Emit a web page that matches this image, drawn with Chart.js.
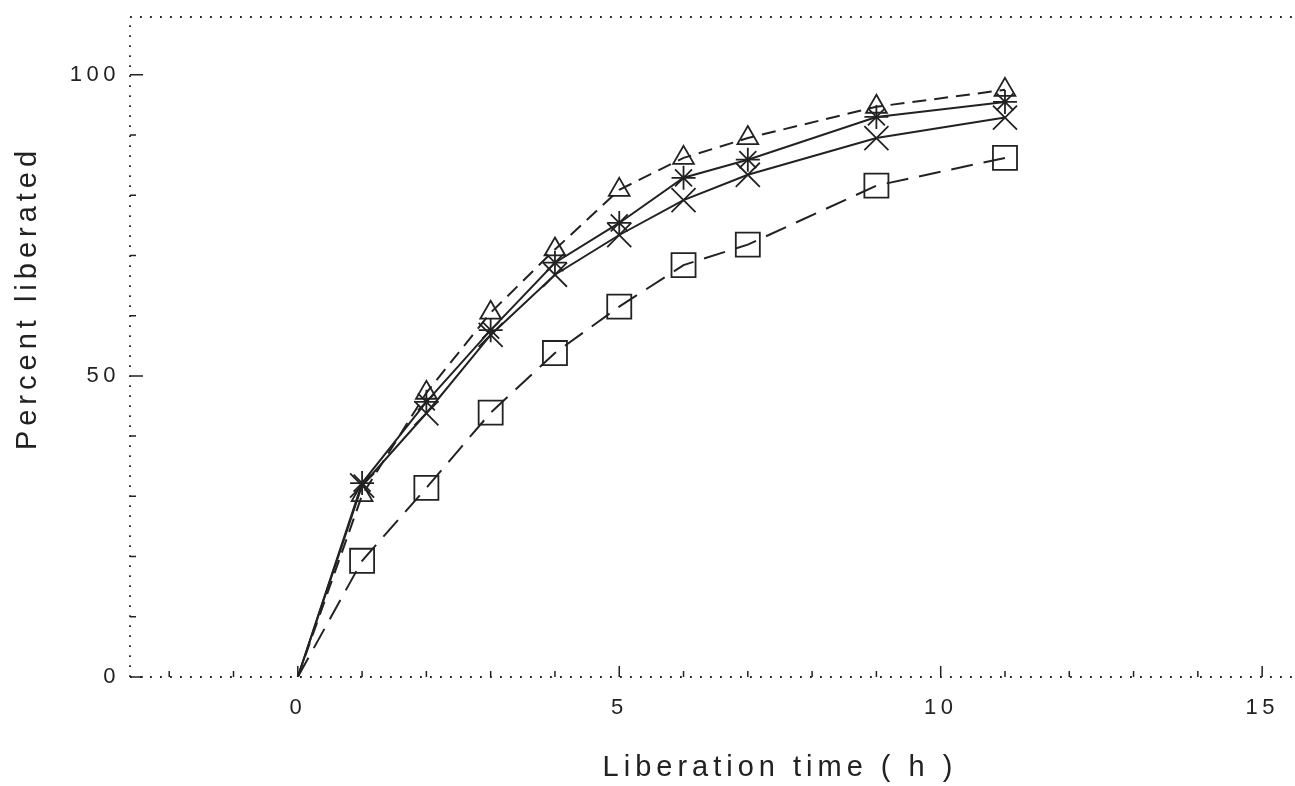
<!DOCTYPE html>
<html>
<head>
<meta charset="utf-8">
<script src="https://cdn.jsdelivr.net/npm/chart.js@4.4.1/dist/chart.umd.min.js"></script>
<style>
    html, body { margin: 0; padding: 0; background: #ffffff; }
    #liberationChart { display: block; }
</style>
</head>
<body>
<canvas id="liberationChart" width="1295" height="786"></canvas>
<script>
// 放出時間 (h) と各系列の放出率 (%)
const hours = [0, 1, 2, 3, 4, 5, 6, 7, 9, 11];
const triangleSeries = [0, 30.2, 47.2, 60.5, 71.0, 80.9, 86.2, 89.5, 94.7, 97.5];
const starSeries = [0, 32.2, 45.7, 57.6, 68.8, 75.4, 82.9, 85.9, 93.0, 95.5];
const crossSeries = [0, 31.8, 43.8, 56.8, 66.8, 73.4, 79.2, 83.4, 89.5, 92.9];
const squareSeries = [0, 19.3, 31.4, 43.9, 53.8, 61.5, 68.4, 71.8, 81.6, 86.2];

// 目盛り
const xTickLabels = [0, 5, 10, 15];
const yTickLabels = [0, 50, 100];
const xMinorTicks = [-2, -1, 0, 1, 2, 3, 4, 5, 6, 7, 8, 9, 10, 11, 12, 13, 14, 15];
const yMinorTicks = [0, 10, 20, 30, 40, 50, 60, 70, 80, 90, 100];

const INK = '#222222';
const FONT = "'Liberation Sans', Arial, Helvetica, sans-serif";

const toPoints = (values) => hours.map((h, i) => ({ x: h, y: values[i] }));

// 原点にはマーカーを描かない
const markerSize = (r) => (ctx) => (ctx.dataIndex === 0 ? 0 : r);

const makeSeries = (label, values, pointStyle, radius, dash) => ({
    label: label,
    data: toPoints(values),
    borderColor: INK,
    backgroundColor: 'rgba(0,0,0,0)',
    borderWidth: 2,
    borderDash: dash,
    tension: 0,
    pointStyle: pointStyle,
    pointRadius: markerSize(radius),
    pointBorderColor: INK,
    pointBorderWidth: 1.8,
    pointBackgroundColor: 'rgba(0,0,0,0)',
});

// 点線の枠・内向きの目盛り・軸タイトル
const frameTicks = {
    id: 'frameTicks',
    beforeDraw: (chart) => {
        chart.ctx.letterSpacing = '4.5px';
    },
    afterDraw: (chart) => {
        const ctx = chart.ctx;
        const a = chart.chartArea;
        const x = chart.scales.x;
        const y = chart.scales.y;

        ctx.save();
        ctx.strokeStyle = INK;
        ctx.lineWidth = 1.8;
        ctx.setLineDash([1.8, 8.2]);
        ctx.beginPath();
        ctx.moveTo(a.left, a.bottom);
        ctx.lineTo(a.right, a.bottom);
        ctx.moveTo(a.left, a.bottom);
        ctx.lineTo(a.left, a.top);
        ctx.moveTo(a.left, a.top);
        ctx.lineTo(a.right, a.top);
        ctx.stroke();

        ctx.setLineDash([]);
        ctx.lineWidth = 1.5;
        ctx.beginPath();
        xMinorTicks.forEach((v) => {
            const px = x.getPixelForValue(v);
            const len = xTickLabels.includes(v) ? 11 : 6;
            ctx.moveTo(px, a.bottom);
            ctx.lineTo(px, a.bottom - len);
        });
        yMinorTicks.forEach((v) => {
            const py = y.getPixelForValue(v);
            const len = yTickLabels.includes(v) ? 13 : 6;
            ctx.moveTo(a.left, py);
            ctx.lineTo(a.left + len, py);
        });
        ctx.stroke();

        // 軸タイトル
        ctx.fillStyle = INK;
        ctx.font = `29px ${FONT}`;
        ctx.letterSpacing = '5px';
        ctx.textAlign = 'center';
        ctx.textBaseline = 'middle';
        ctx.fillText('Liberation time ( h )', 780, 768);
        ctx.translate(28, 298);
        ctx.rotate(-Math.PI / 2);
        ctx.fillText('Percent liberated', 0, 0);
        ctx.restore();
    },
};

new Chart(document.getElementById('liberationChart').getContext('2d'), {
    type: 'line',
    data: {
        datasets: [
            makeSeries('triangle', triangleSeries, 'triangle', 12, [14, 8]),
            makeSeries('star', starSeries, 'star', 12, []),
            makeSeries('cross', crossSeries, 'crossRot', 17, []),
            makeSeries('square', squareSeries, 'rect', 17, [22, 11]),
        ],
    },
    options: {
        responsive: false,
        animation: false,
        layout: { autoPadding: false, padding: { top: 17, right: 2, left: 0, bottom: 0 } },
        plugins: {
            legend: { display: false },
            tooltip: { enabled: false },
        },
        scales: {
            x: {
                type: 'linear',
                min: -2.61,
                max: 15.48,
                grid: { display: false },
                border: { display: false },
                afterBuildTicks: (scale) => {
                    scale.ticks = xTickLabels.map((v) => ({ value: v }));
                },
                afterFit: (scale) => {
                    scale.height = 109;
                    scale.paddingLeft = 0;
                    scale.paddingRight = 0;
                },
                ticks: {
                    color: INK,
                    padding: 10,
                    maxRotation: 0,
                    font: { size: 22, family: FONT },
                    callback: (v) => v,
                },
            },
            y: {
                type: 'linear',
                min: 0,
                max: 109.6,
                grid: { display: false },
                border: { display: false },
                afterBuildTicks: (scale) => {
                    scale.ticks = yTickLabels.map((v) => ({ value: v }));
                },
                afterFit: (scale) => {
                    scale.width = 130;
                    scale.paddingTop = 0;
                    scale.paddingBottom = 0;
                },
                ticks: {
                    color: INK,
                    padding: 2,
                    font: { size: 22, family: FONT },
                    callback: (v) => v,
                },
            },
        },
    },
    plugins: [frameTicks],
});
</script>
</body>
</html>
